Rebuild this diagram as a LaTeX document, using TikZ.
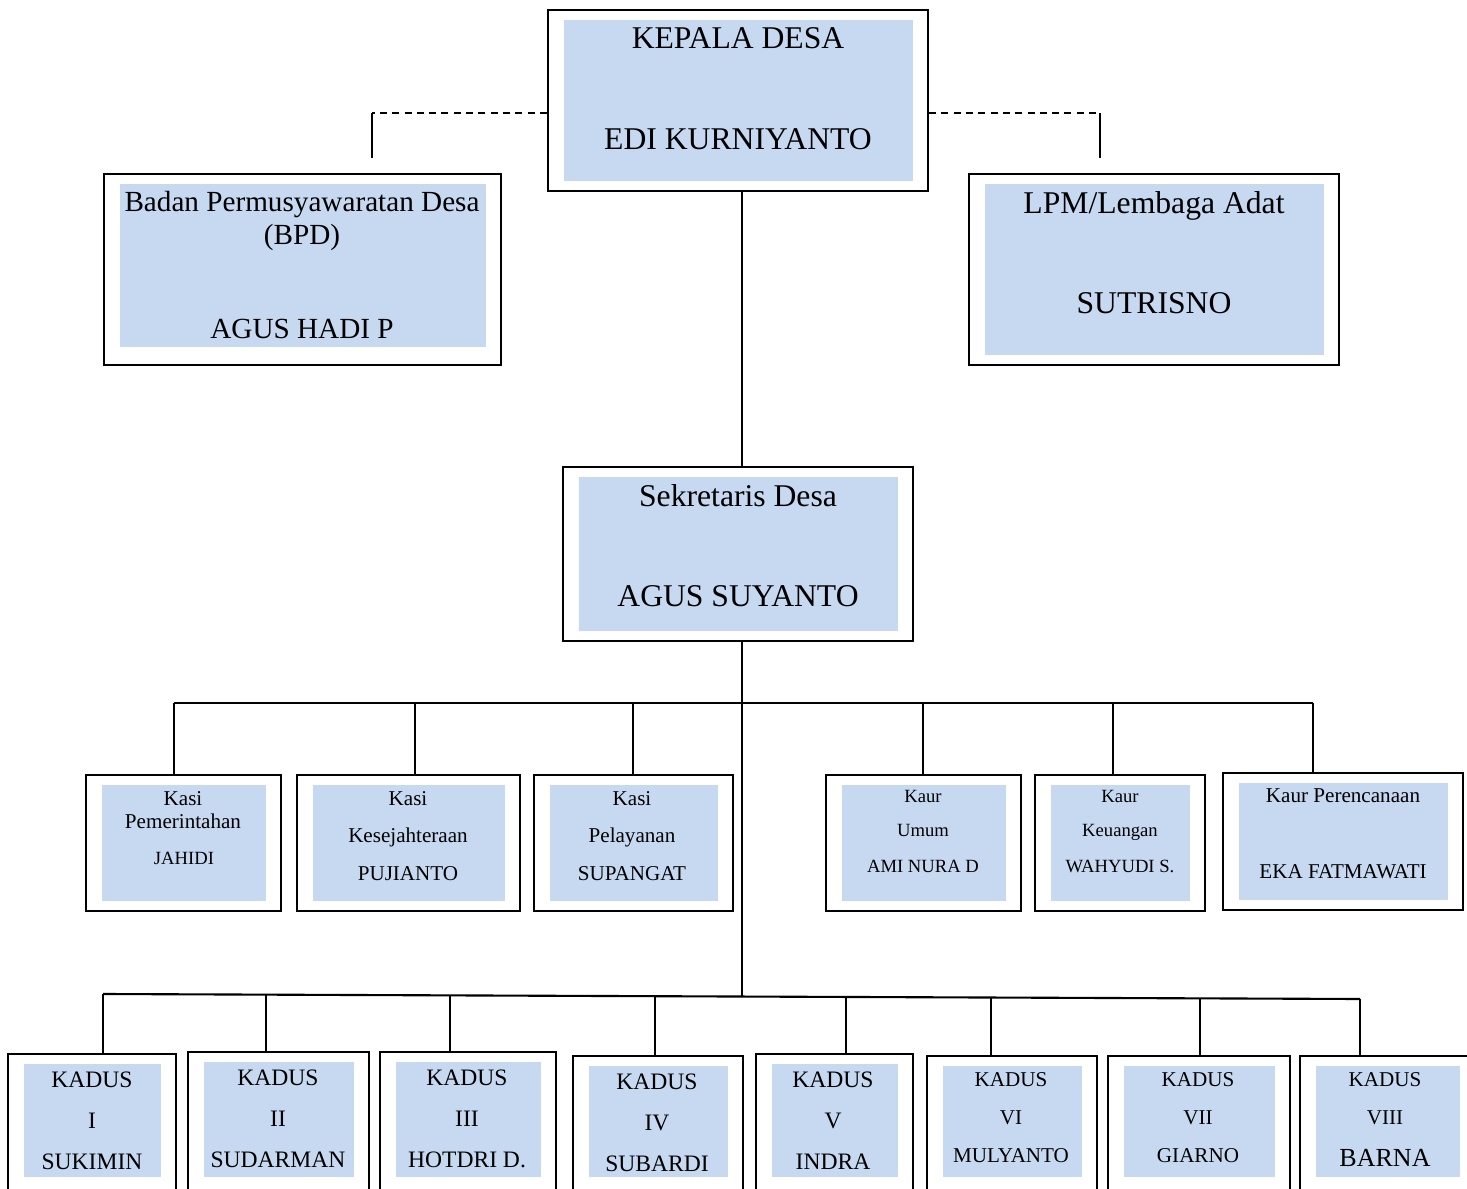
\documentclass[tikz,border=0pt]{standalone}
\usepackage{fontspec}
\setmainfont{Liberation Serif}
\usetikzlibrary{fit,calc}
\definecolor{boxblue}{RGB}{198,217,241}
\tikzset{
  orgbox/.style={draw=black, line width=0.6pt, inner sep=0pt,
    path picture={\fill[boxblue] ([shift={(0.155cm,-0.1cm)}]path picture bounding box.north west)
      rectangle ([shift={(-0.15cm,#1)}]path picture bounding box.south east);}},
  orgbox/.default=0.1cm,
  conn/.style={line width=0.6pt},
  txt/.style={inner sep=0pt, anchor=base},
  bigtxt/.style={font=\fontsize{9}{11}\selectfont},
  bpdtxt/.style={font=\fontsize{8.3}{10}\selectfont},
  midtxt/.style={font=\fontsize{6}{7}\selectfont},
  smalltxt/.style={font=\fontsize{5.3}{6.5}\selectfont},
  kdtxt/.style={font=\fontsize{6.7}{8}\selectfont},
  kdsmall/.style={font=\fontsize{6}{7}\selectfont},
  kdbig/.style={font=\fontsize{7.4}{9}\selectfont}
}
\begin{document}
\begin{tikzpicture}[x=0.01cm, y=-0.01cm]
\useasboundingbox (0,0) rectangle (1467,1189);

% top level
\node[orgbox, fit={(548,10) (928,191)}] (kades) {};
\node[orgbox=0.18cm, fit={(104,174) (501,365)}] (bpd) {};
\node[orgbox, fit={(969,174) (1339,365)}] (lpm) {};
\node[orgbox, fit={(563,467) (913,641)}] (sekdes) {};

\node[txt, bigtxt] (kades-a) at (738,49) {KEPALA DESA};
\node[txt, bigtxt] (kades-b) at (738,150) {EDI KURNIYANTO};
\node[txt, bpdtxt] (bpd-a) at (302,212) {Badan Permusyawaratan Desa};
\node[txt, bpdtxt] (bpd-b) at (302,245) {(BPD)};
\node[txt, bpdtxt] (bpd-c) at (302,339) {AGUS HADI P};
\node[txt, bigtxt] (lpm-a) at (1154,214) {LPM/Lembaga Adat};
\node[txt, bigtxt] (lpm-b) at (1154,314) {SUTRISNO};
\node[txt, bigtxt] (sekdes-a) at (738,507) {Sekretaris Desa};
\node[txt, bigtxt] (sekdes-b) at (738,607) {AGUS SUYANTO};

% dashed links
\coordinate (bpdj) at (372,113);
\coordinate (bpde) at (372,158);
\coordinate (lpmj) at (1100,113);
\coordinate (lpme) at (1100,158);
\draw[conn, dash pattern=on 2pt off 1.5pt] (kades.west |- bpdj) -- (bpdj);
\draw[conn] (bpdj) -- (bpde);
\draw[conn, dash pattern=on 2pt off 1.5pt] (kades.east |- lpmj) -- (lpmj);
\draw[conn] (lpmj) -- (lpme);

% spine
\coordinate (spine) at (742,703);
\coordinate (spineend) at (742,996.4);
\draw[conn] (kades.south -| spine) -- (sekdes.north -| spine);
\draw[conn] (sekdes.south -| spine) -- (spineend);

% kasi / kaur row
\node[orgbox, fit={(86,775) (281,911)}] (kasipem) {};
\node[orgbox, fit={(297,775) (520,911)}] (kasikes) {};
\node[orgbox, fit={(534,775) (733,911)}] (kasipel) {};
\node[orgbox, fit={(826,775) (1021,911)}] (kaurum) {};
\node[orgbox, fit={(1035,775) (1205,911)}] (kaurkeu) {};
\node[orgbox, fit={(1223,773) (1463,910)}] (kaurren) {};

\foreach \n/\x in {kasipem/174, kasikes/415, kasipel/633, kaurum/923, kaurkeu/1113, kaurren/1313} {
  \coordinate (d\n) at (\x,703);
  \draw[conn] (d\n) -- (d\n |- \n.north);
}
\draw[conn] (dkasipem) -- (dkaurren);

\node[txt, midtxt] (kasipem-a) at (183,805) {Kasi};
\node[txt, midtxt] (kasipem-b) at (183,829) {Pemerintahan};
\node[txt, smalltxt] (kasipem-c) at (184,864) {JAHIDI};
\node[txt, midtxt] (kasikes-a) at (408,805) {Kasi};
\node[txt, midtxt] (kasikes-b) at (408,843) {Kesejahteraan};
\node[txt, midtxt] (kasikes-c) at (408,880) {PUJIANTO};
\node[txt, midtxt] (kasipel-a) at (632,805) {Kasi};
\node[txt, midtxt] (kasipel-b) at (632,843) {Pelayanan};
\node[txt, midtxt] (kasipel-c) at (632,880) {SUPANGAT};
\node[txt, smalltxt] (kaurum-a) at (923,802) {Kaur};
\node[txt, smalltxt] (kaurum-b) at (923,837) {Umum};
\node[txt, smalltxt] (kaurum-c) at (923,873) {AMI NURA D};
\node[txt, smalltxt] (kaurkeu-a) at (1120,802) {Kaur};
\node[txt, smalltxt] (kaurkeu-b) at (1120,837) {Keuangan};
\node[txt, smalltxt] (kaurkeu-c) at (1120,873) {WAHYUDI S.};
\node[txt, midtxt] (kaurren-a) at (1343,803) {Kaur Perencanaan};
\node[txt, midtxt] (kaurren-b) at (1343,878) {EKA FATMAWATI};

% kadus row
\foreach \i/\xa/\ya/\xb in {1/8/1054/176, 2/188/1052/369, 3/380/1052/556, 4/573/1056/743,
    5/756/1054/913, 6/927/1056/1097, 7/1108/1056/1290, 8/1300/1056/1475}
  \node[orgbox=0.2cm, fit={(\xa,\ya) (\xb,1197)}] (kadus\i) {};

\foreach \i/\x/\y in {1/103/994, 2/266/994.6, 3/450/995.4, 4/655/996.2,
    5/846/997, 6/991/997.5, 7/1200/998.4, 8/1360/999} {
  \coordinate (kd\i) at (\x,\y);
  \draw[conn] (kd\i) -- (kd\i |- kadus\i.north);
}
\draw[conn] (kd1) -- (kd8);

\foreach \i/\x/\ya/\yb/\yc/\rom/\nama/\sz/\nf in {
    1/92/1087/1128/1169/I/SUKIMIN/kdtxt/kdtxt,
    2/278/1085/1126/1167/II/SUDARMAN/kdtxt/kdtxt,
    3/467/1085/1126/1167/III/HOTDRI D./kdtxt/kdtxt,
    4/657/1089/1130/1171/IV/SUBARDI/kdtxt/kdtxt,
    5/833/1087/1128/1169/V/INDRA/kdtxt/kdtxt,
    6/1011/1086/1124/1162/VI/MULYANTO/kdsmall/kdsmall,
    7/1198/1086/1124/1162/VII/GIARNO/kdsmall/kdsmall,
    8/1385/1086/1124/1166/VIII/BARNA/kdsmall/kdbig} {
  \node[txt, \sz] (kadus\i-a) at (\x,\ya) {KADUS};
  \node[txt, \sz] (kadus\i-b) at (\x,\yb) {\rom};
  \node[txt, \nf] (kadus\i-c) at (\x,\yc) {\nama};
}
\end{tikzpicture}
\end{document}
